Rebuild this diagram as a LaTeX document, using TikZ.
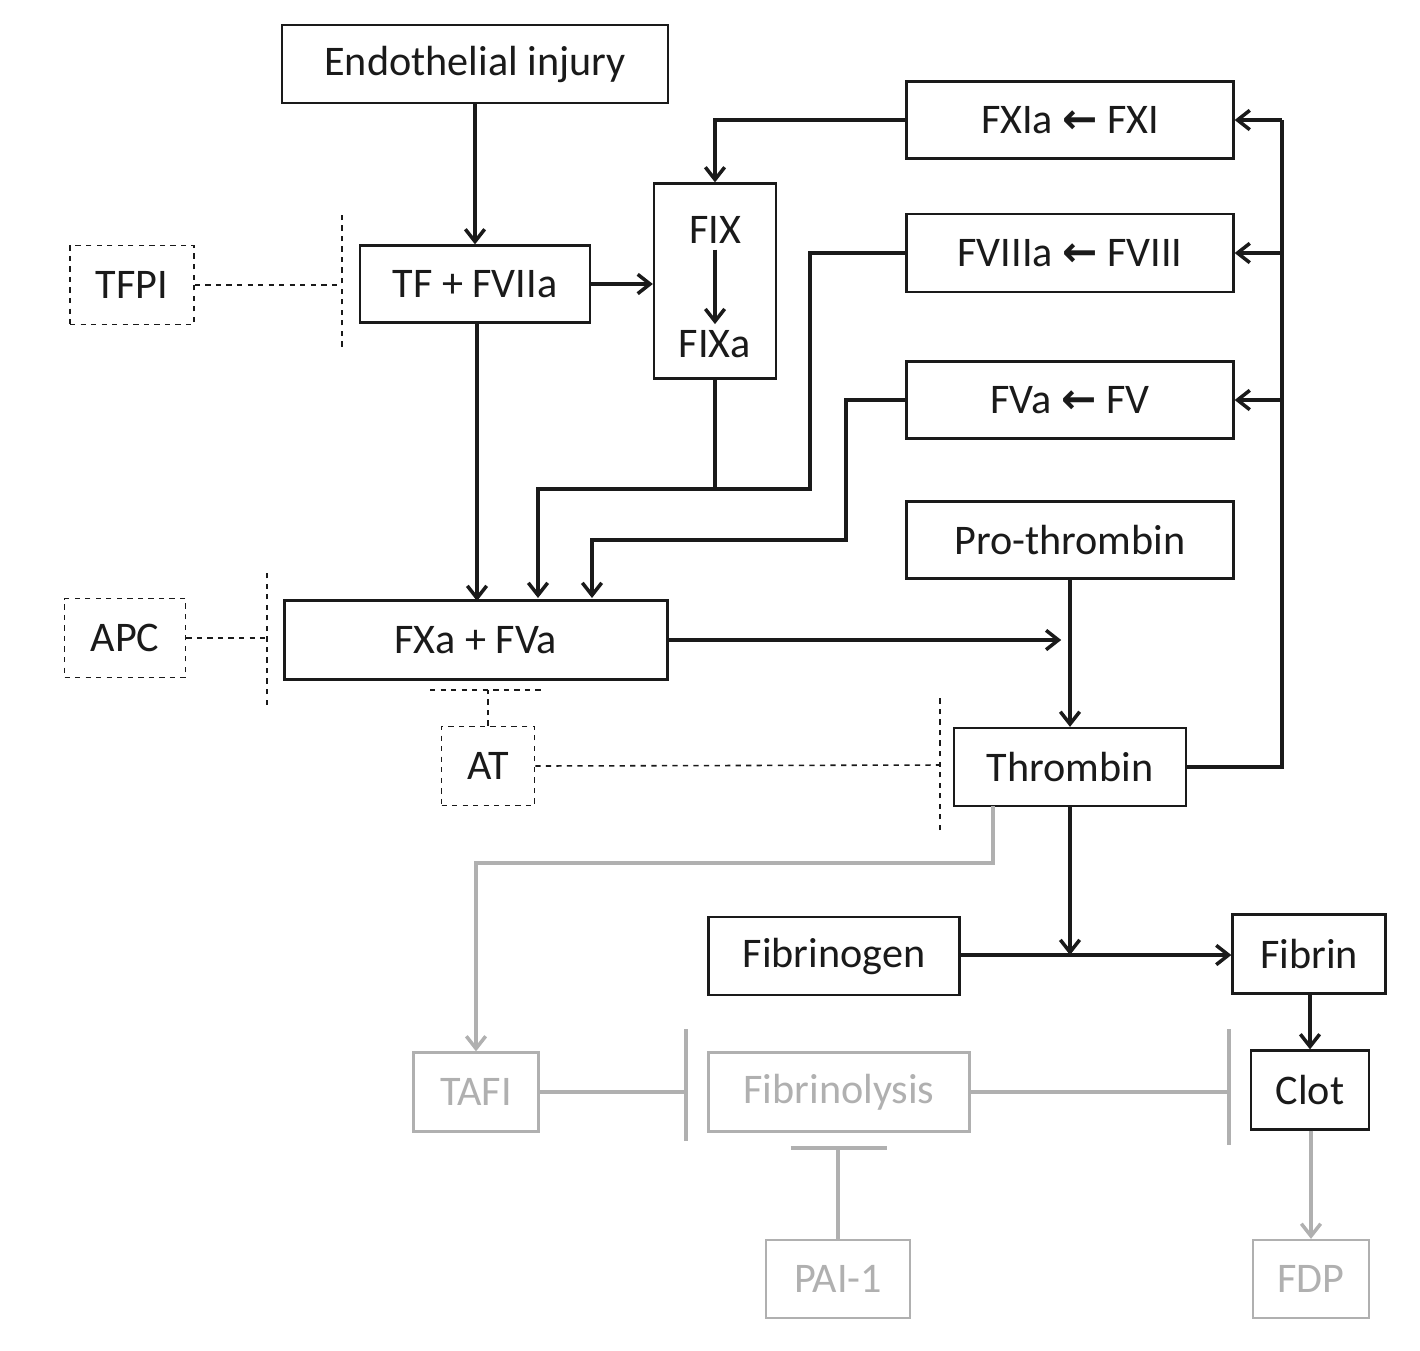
\documentclass[tikz,border=0pt]{standalone}
\usepackage{fontspec}
\setmainfont{Carlito}
\newfontfamily\arr{DejaVu Sans}
\usetikzlibrary{arrows.meta}
\definecolor{dk}{HTML}{1A1A1A}
\definecolor{gr}{HTML}{B0B0B0}
\begin{document}
\begin{tikzpicture}[x=0.02cm,y=-0.02cm,
 box/.style={draw=dk,line width=1.3pt,fill=white,inner sep=0pt,font=\fontsize{24}{28}\selectfont,text=dk},
 dbox/.style={box,dashed,line width=0.9pt},
 gbox/.style={box,draw=gr,text=gr},
 ln/.style={dk,line width=2pt},
 ar/.style={ln,-{Straight Barb[length=7pt,width=11pt,line width=2pt]}},
 dl/.style={dk,dashed,line width=0.9pt},
 gl/.style={gr,line width=2pt},
 gar/.style={gl,-{Straight Barb[length=7pt,width=11pt,line width=2pt]}},
 la/.style={\arr\bfseries}]
\useasboundingbox (0,0) rectangle (1420,1350);
\node[box,minimum width=386*0.02cm,minimum height=78*0.02cm] (endo) at (475,64) {Endothelial injury};
\node[dbox,minimum width=124*0.02cm,minimum height=79*0.02cm] (tfpi) at (132,285) {TFPI};
\node[box,minimum width=230*0.02cm,minimum height=77*0.02cm] (tf) at (475,284) {TF + FVIIa};
\node[box,minimum width=122*0.02cm,minimum height=195*0.02cm] (fix) at (715,281) {};
\node[font=\fontsize{24}{28}\selectfont,text=dk] (fixt) at (715,230) {FIX};
\node[font=\fontsize{24}{28}\selectfont,text=dk] (fixat) at (715,344) {FIXa};
\draw[ar] (fixt.south) -- (fixat.north);
\node[box,minimum width=327*0.02cm,minimum height=77*0.02cm] (fxi) at (1070,120) {FXIa {\arr\bfseries ←} FXI};
\node[box,minimum width=327*0.02cm,minimum height=78*0.02cm] (fviii) at (1070,253) {FVIIIa {\arr\bfseries ←} FVIII};
\node[box,minimum width=327*0.02cm,minimum height=77*0.02cm] (fv) at (1070,400) {FVa {\arr\bfseries ←} FV};
\node[box,minimum width=327*0.02cm,minimum height=77*0.02cm] (pro) at (1070,540) {Pro-thrombin};
\node[dbox,minimum width=121*0.02cm,minimum height=79*0.02cm] (apc) at (125,638) {APC};
\node[box,minimum width=383*0.02cm,minimum height=79*0.02cm] (fxa) at (476,640) {FXa + FVa};
\node[dbox,minimum width=93*0.02cm,minimum height=79*0.02cm] (at) at (488,766) {AT};
\node[box,minimum width=232*0.02cm,minimum height=78*0.02cm] (thr) at (1070,767) {Thrombin};
\node[box,minimum width=251*0.02cm,minimum height=78*0.02cm] (fbg) at (834,956) {Fibrinogen};
\node[box,minimum width=153*0.02cm,minimum height=79*0.02cm] (fbn) at (1309,954) {Fibrin};
\node[gbox,minimum width=125*0.02cm,minimum height=79*0.02cm] (tafi) at (476,1092) {TAFI};
\node[gbox,minimum width=261*0.02cm,minimum height=79*0.02cm] (fl) at (839,1092) {Fibrinolysis};
\node[box,minimum width=118*0.02cm,minimum height=79*0.02cm] (clot) at (1310,1090) {Clot};
\node[gbox,minimum width=144*0.02cm,minimum height=78*0.02cm] (pai) at (838,1279) {PAI-1};
\node[gbox,minimum width=116*0.02cm,minimum height=78*0.02cm] (fdp) at (1311,1279) {FDP};
% coordinates
\coordinate (j1) at (715,489);
\coordinate (j2) at (1070,640);
\coordinate (j3) at (1070,955);
\coordinate (bTF) at (342,285);
\coordinate (bAPC) at (267,638);
\coordinate (bAT) at (940,765);
\coordinate (bFX) at (488,690);
\coordinate (bTA) at (686,1092);
\coordinate (bFL) at (1229,1092);
\coordinate (bPA) at (838,1148);
\coordinate (rr) at (1282,767);
% black connectors
\draw[ar] (endo.south) -- (tf.north);
\draw[ar] (tf.east) -- (fix.west|-tf.east);
\draw[ar] (fxi.west) -| (fix.north);
\draw[ar] (477,322) -- (477,601);
\draw[ar] (fix.south) -- (j1) -| (538,598);
\draw[ln] (fviii.west) -| (810,489) -- (j1);
\draw[ar] (fv.west) -| (846,540) -| (592,598);
\draw[ar] (fxa.east|-j2) -- ([xshift=-5]j2);
\draw[ar] (pro.south) -- (thr.north);
\draw[ln] (thr.east) -- (rr) -- (rr|-fxi.east);
\draw[ar] (rr|-fxi.east) -- (fxi.east);
\draw[ar] (rr|-fviii.east) -- (fviii.east);
\draw[ar] (rr|-fv.east) -- (fv.east);
\draw[ar] (thr.south) -- (j3);
\draw[ar] (fbg.east|-j3) -- (fbn.west|-j3);
\draw[ar] (fbn.south-|clot.north) -- (clot.north);
% dashed inhibitions
\draw[dl] (tfpi.east) -- (bTF);
\draw[dl] ([yshift=-35]bTF) -- ([yshift=40]bTF);
\draw[dl] (apc.east) -- (bAPC);
\draw[dl] ([yshift=-38]bAPC) -- ([yshift=37]bAPC);
\draw[dl] (at.east) -- (bAT);
\draw[dl] ([yshift=-37]bAT) -- ([yshift=40]bAT);
\draw[dl] (at.north) -- (bFX);
\draw[dl] ([xshift=-33]bFX) -- ([xshift=32]bFX);
% gray
\draw[gar] (993,806) -- (993,863) -| (tafi.north);
\draw[gl] (tafi.east) -- (bTA);
\draw[gl] ([yshift=-28]bTA) -- ([yshift=36]bTA);
\draw[gl] (fl.east) -- (bFL);
\draw[gl] ([yshift=-30]bFL) -- ([yshift=36]bFL);
\draw[gl] (pai.north) -- (bPA);
\draw[gl] ([xshift=-27]bPA) -- ([xshift=28]bPA);
\draw[gar] (clot.south-|fdp.north) -- (fdp.north);
\end{tikzpicture}
\end{document}
